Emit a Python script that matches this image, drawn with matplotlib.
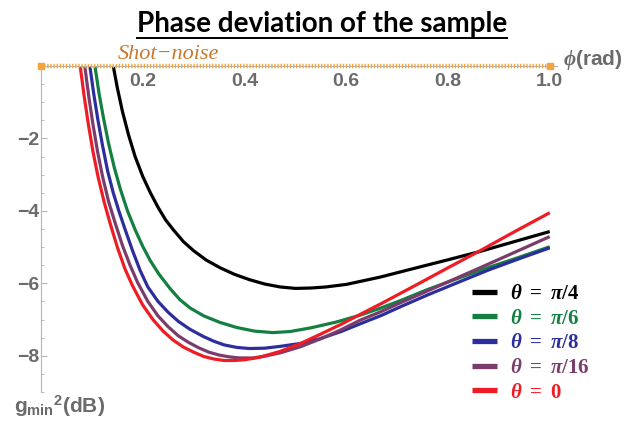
import numpy as np
import matplotlib
matplotlib.use('Agg')
from matplotlib import pyplot as plt
from matplotlib.lines import Line2D


''' matplotlib config '''
plt.rcParams['font.family'] = ['Liberation Sans', 'DejaVu Sans']
plt.rcParams['mathtext.fontset'] = 'custom'
plt.rcParams['mathtext.rm'] = 'Liberation Serif:bold'
plt.rcParams['mathtext.it'] = 'Liberation Serif:bold:italic'
plt.rcParams['mathtext.bf'] = 'Liberation Sans:bold'


# values: phi (rad) vs g_min^2 (dB)
x_q4 = [0.142, 0.15, 0.16, 0.172, 0.185, 0.2, 0.215, 0.23, 0.245, 0.26, 0.28, 0.3, 0.325, 0.352, 0.38,
        0.41, 0.44, 0.47, 0.5, 0.53, 0.56, 0.6, 0.666, 0.73, 0.8, 0.863, 0.93, 1.0]
y_q4 = [0.0, -0.6, -1.25, -1.9, -2.5, -3.05, -3.5, -3.9, -4.25, -4.52, -4.85, -5.1, -5.36, -5.57, -5.75,
        -5.9, -6.02, -6.1, -6.14, -6.13, -6.1, -6.03, -5.83, -5.6, -5.35, -5.12, -4.85, -4.57]

x_q6 = [0.106, 0.114, 0.123, 0.133, 0.144, 0.156, 0.17, 0.185, 0.2, 0.215, 0.232, 0.254, 0.273, 0.293,
        0.32, 0.352, 0.385, 0.42, 0.456, 0.49, 0.53, 0.58, 0.627, 0.67, 0.706, 0.76, 0.824, 0.88, 0.94, 1.0]
y_q6 = [0.0, -0.75, -1.45, -2.15, -2.8, -3.4, -4.0, -4.52, -4.98, -5.38, -5.75, -6.15, -6.45, -6.68,
        -6.9, -7.08, -7.22, -7.32, -7.36, -7.33, -7.23, -7.07, -6.88, -6.67, -6.48, -6.17, -5.84, -5.56, -5.28, -4.99]

x_q8 = [0.096, 0.104, 0.112, 0.121, 0.131, 0.142, 0.153, 0.165, 0.18, 0.195, 0.21, 0.23, 0.25, 0.27,
        0.293, 0.318, 0.34, 0.36, 0.385, 0.41, 0.44, 0.47, 0.51, 0.548, 0.59, 0.627, 0.67, 0.706, 0.76,
        0.824, 0.88, 0.94, 1.0]
y_q8 = [0.0, -0.8, -1.5, -2.2, -2.9, -3.5, -4.0, -4.5, -5.1, -5.65, -6.1, -6.5, -6.8, -7.05,
        -7.27, -7.46, -7.6, -7.7, -7.77, -7.8, -7.79, -7.74, -7.66, -7.53, -7.33, -7.12, -6.88, -6.65, -6.32,
        -5.95, -5.63, -5.32, -5.02]

x_q16 = [0.086, 0.094, 0.102, 0.111, 0.121, 0.133, 0.145, 0.16, 0.175, 0.19, 0.21, 0.23, 0.25, 0.27,
         0.29, 0.31, 0.33, 0.35, 0.37, 0.39, 0.417, 0.44, 0.47, 0.51, 0.55, 0.59, 0.627, 0.67, 0.706,
         0.75, 0.8, 0.863, 0.93, 1.0]
y_q16 = [0.0, -0.85, -1.6, -2.35, -3.05, -3.75, -4.3, -4.95, -5.5, -5.98, -6.5, -6.9, -7.2, -7.45,
         -7.63, -7.78, -7.9, -7.98, -8.03, -8.06, -8.06, -8.01, -7.92, -7.75, -7.53, -7.28, -7.02, -6.77, -6.54,
         -6.27, -5.96, -5.57, -5.15, -4.71]

x_q0 = [0.077, 0.085, 0.093, 0.102, 0.112, 0.124, 0.136, 0.15, 0.165, 0.18, 0.2, 0.22, 0.24, 0.26,
        0.28, 0.3, 0.32, 0.34, 0.36, 0.38, 0.4, 0.43, 0.47, 0.51, 0.55, 0.59, 0.627, 0.67, 0.706, 0.75,
        0.8, 0.863, 0.93, 1.0]
y_q0 = [0.0, -0.85, -1.6, -2.35, -3.05, -3.75, -4.35, -5.0, -5.6, -6.07, -6.6, -7.0, -7.32, -7.57,
        -7.76, -7.9, -8.02, -8.09, -8.13, -8.13, -8.11, -8.04, -7.88, -7.66, -7.4, -7.13, -6.86, -6.55, -6.28, -5.95,
        -5.57, -5.1, -4.58, -4.05]

labels = [r'$\theta\ =\ \pi/4$', r'$\theta\ =\ \pi/6$', r'$\theta\ =\ \pi/8$', r'$\theta\ =\ \pi/16$', r'$\theta\ =\ 0$']
colors = ['#000000', '#138042', '#2b2e9c', '#7a3d6b', '#ee1d25']
xticks = [0.2, 0.4, 0.6, 0.8, 1.0]
yticks = [-8, -6, -4, -2]

gray = '#6b6b6b'
axgray = '#b5b5b5'

fig = plt.figure(figsize=(6.44, 4.25), dpi=100)
# x=0 at px 41, 508.75 px per unit; y=0 at px 66, y=-9 at px 392
ax = fig.add_axes([41/644, 1-392/425, 1.015*508.75/644, (392-66)/425])
ax.set_xlim(0, 1.015)
ax.set_ylim(-9, 0)

# shot-noise level
ax.plot([0, 1.0], [0, 0], color='#f4a43c', lw=3.2, ls=(0, (0.3, 0.4)), clip_on=False, zorder=3)
ax.plot([0, 1.0], [0, 0], ls='none', marker='s', ms=4.5, color='#f4a43c', clip_on=False, zorder=3)
ax.text(0.151, 0.2, 'Shot\u2212noise', color='#c8782c', fontsize=16, style='italic',
        family=['Liberation Serif', 'DejaVu Serif'], ha='left', va='baseline')

xs = [x_q4, x_q6, x_q8, x_q16, x_q0]
ys = [y_q4, y_q6, y_q8, y_q16, y_q0]
for xx, yy, c, lab in zip(xs, ys, colors, labels):
  ax.plot(xx, yy, color=c, lw=2.3, label=lab, solid_capstyle='butt', solid_joinstyle='round', zorder=2)

for s in ['top', 'right']:
  ax.spines[s].set_visible(False)
ax.spines['bottom'].set_position(('data', 0))
ax.spines['bottom'].set_color(axgray)
ax.spines['left'].set_color(axgray)
ax.spines['left'].set_position(('data', 0))

ax.set_xticks(xticks)
ax.set_xticklabels(['%.1f' % v for v in xticks])
ax.set_yticks(yticks)
ax.set_yticks(np.arange(-9, 0.01, 0.5), minor=True)
ax.tick_params(axis='x', which='both', length=0, pad=5, labelsize=14, labelcolor=gray)
ax.tick_params(axis='y', which='major', direction='in', length=4, width=0.8, color=axgray,
               pad=1, labelsize=14, labelcolor=gray)
ax.tick_params(axis='y', which='minor', direction='in', length=2, width=0.6, color=axgray)
for t in ax.get_xticklabels() + ax.get_yticklabels():
  t.set_fontweight('bold')

fig.text(563/644, 1-60/425, r'$\phi$(rad)', color=gray, fontsize=15, fontweight='bold',
         ha='left', va='center')
fig.text(14/644, 1-406/425, r'$\mathbf{g_{min}}{}^{\mathbf{2}}$(dB)', color=gray, fontsize=15,
         fontweight='bold', ha='left', va='center')

leg = ax.legend(loc='upper left', bbox_to_anchor=(472/644, 1-284/425), bbox_transform=fig.transFigure,
                frameon=False, fontsize=15, handlelength=1.2, handletextpad=0.6, labelspacing=0.27,
                borderpad=0, borderaxespad=0, labelcolor='linecolor')
for h in leg.legend_handles:
  h.set_linewidth(3.8)

title = fig.text(0.5, 1-24/425, 'Phase deviation of the sample', fontsize=20, fontweight='bold',
                 family=['Lato', 'DejaVu Sans'], ha='center', va='center')
fig.canvas.draw()
bb = title.get_window_extent()
W, H = fig.bbox.width, fig.bbox.height
fig.add_artist(Line2D([bb.x0/W, bb.x1/W], [(bb.y0 - 1)/H, (bb.y0 - 1)/H], color='black', lw=1.4,
                      transform=fig.transFigure))

fig.savefig('out.png', dpi=100)
